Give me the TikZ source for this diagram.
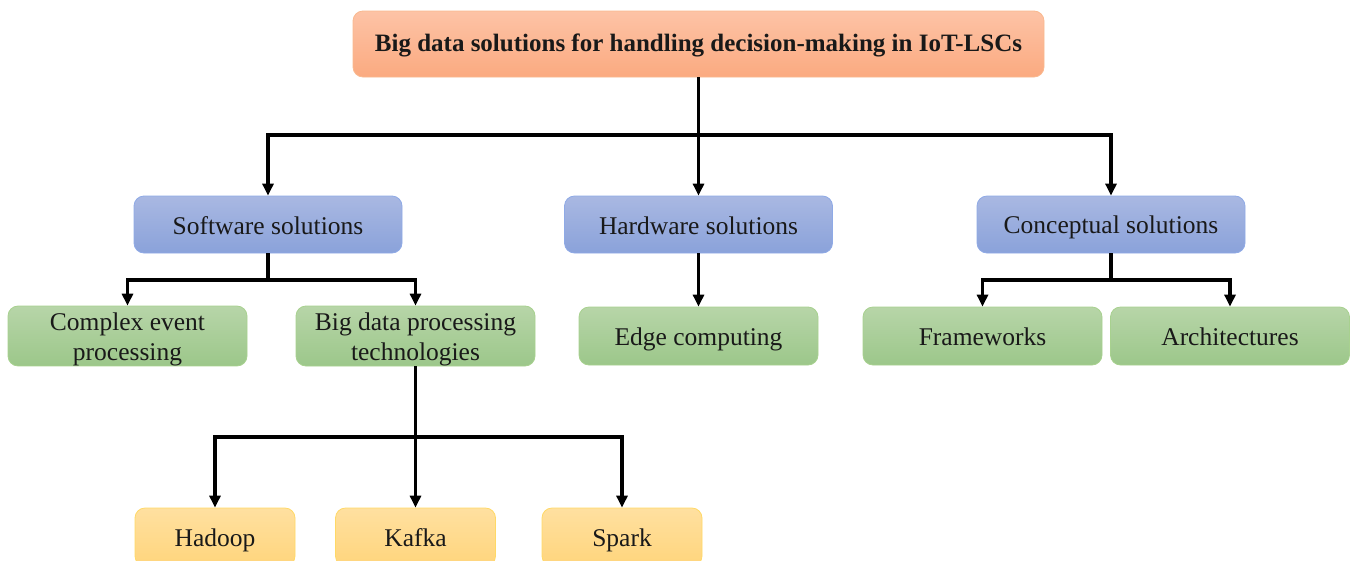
\documentclass[tikz,border=0pt]{standalone}
\usepackage{fontspec}
\setmainfont{Liberation Serif}
\usetikzlibrary{arrows.meta}

\definecolor{orTop}{HTML}{FDC3A6}
\definecolor{orBot}{HTML}{FBAA80}
\definecolor{orLine}{HTML}{F9B98F}
\definecolor{blTop}{HTML}{A9B8E2}
\definecolor{blBot}{HTML}{8AA2DA}
\definecolor{blLine}{HTML}{8FAAE6}
\definecolor{grTop}{HTML}{B7D5A8}
\definecolor{grBot}{HTML}{9CC78A}
\definecolor{grLine}{HTML}{A8D18F}
\definecolor{yeTop}{HTML}{FFE0A0}
\definecolor{yeBot}{HTML}{FFD57C}
\definecolor{yeLine}{HTML}{FFD966}

% struts that fix where the text baseline sits inside a box
\newcommand\lowstrut{\rule[-4.8pt]{0pt}{28.8pt}}
\newcommand\titlestrut{\rule[-6.4pt]{0pt}{28pt}}

\tikzset{
  box/.style={rounded corners=10pt, inner sep=0pt, align=center,
    font=\fontsize{25.5}{28}\selectfont, text=black!90, line width=0.8pt},
  rootbox/.style={box, shade, top color=orTop, bottom color=orBot, draw=orLine,
    minimum width=691pt, minimum height=66pt,
    font=\fontsize{25}{28}\selectfont\bfseries},
  groupbox/.style={box, shade, top color=blTop, bottom color=blBot, draw=blLine,
    minimum width=268pt, minimum height=57pt},
  leafbox/.style={box, shade, top color=grTop, bottom color=grBot, draw=grLine,
    minimum width=239pt, minimum height=58pt},
  toolbox/.style={box, shade, top color=yeTop, bottom color=yeBot, draw=yeLine,
    minimum width=160pt, minimum height=58pt},
  conn/.style={line width=3.2pt, draw=black},
  arr/.style={conn, -{Triangle[length=12pt,width=11pt]}}
}

\begin{document}
\begin{tikzpicture}[x=1pt,y=-1pt]
  \useasboundingbox (0,0) rectangle (1351,560);
  \clip (0,0) rectangle (1351,560);

  % root
  \node[rootbox] (root) at (698.5,44) {\titlestrut Big data solutions for handling decision-making in IoT-LSCs};

  % solution groups
  \node[groupbox] (soft) at (268,224.5) {\lowstrut Software solutions};
  \node[groupbox] (hard) at (698.5,224.5) {\lowstrut Hardware solutions};
  \node[groupbox] (conc) at (1111,224.5) {\lowstrut Conceptual solutions};

  % second level
  \node[leafbox] (cep)   at (127.5,336) {\lowstrut Complex event\\processing\lowstrut};
  \node[leafbox] (bdp)   at (415.5,336) {\lowstrut Big data processing\\technologies\lowstrut};
  \node[leafbox] (edge)  at (698.5,336) {\lowstrut Edge computing};
  \node[leafbox] (frame) at (982.5,336) {\lowstrut Frameworks};
  \node[leafbox] (arch)  at (1230,336) {\lowstrut Architectures};

  % processing technologies
  \node[toolbox] (hadoop) at (215,537) {\lowstrut Hadoop};
  \node[toolbox] (kafka)  at (415.5,537) {\lowstrut Kafka};
  \node[toolbox] (spark)  at (622,537) {\lowstrut Spark};

  % junction points of the tree
  \coordinate (j0) at (698.5,135);
  \coordinate (j1) at (268,280);
  \coordinate (j2) at (1111,280);
  \coordinate (j3) at (415.5,437);

  % root to groups
  \draw[conn] (root.south) -- (j0);
  \draw[arr] (j0) -| (soft.north);
  \draw[arr] (j0) -- (hard.north);
  \draw[arr] (j0) -| (conc.north);

  % software branch
  \draw[conn] (soft.south) -- (j1);
  \draw[arr] (j1) -| (cep.north);
  \draw[arr] (j1) -| (bdp.north);

  % hardware branch
  \draw[arr] (hard.south) -- (edge.north);

  % conceptual branch
  \draw[conn] (conc.south) -- (j2);
  \draw[arr] (j2) -| (frame.north);
  \draw[arr] (j2) -| (arch.north);

  % technologies branch
  \draw[conn] (bdp.south) -- (j3);
  \draw[arr] (j3) -| (hadoop.north);
  \draw[arr] (j3) -- (kafka.north);
  \draw[arr] (j3) -| (spark.north);
\end{tikzpicture}
\end{document}
